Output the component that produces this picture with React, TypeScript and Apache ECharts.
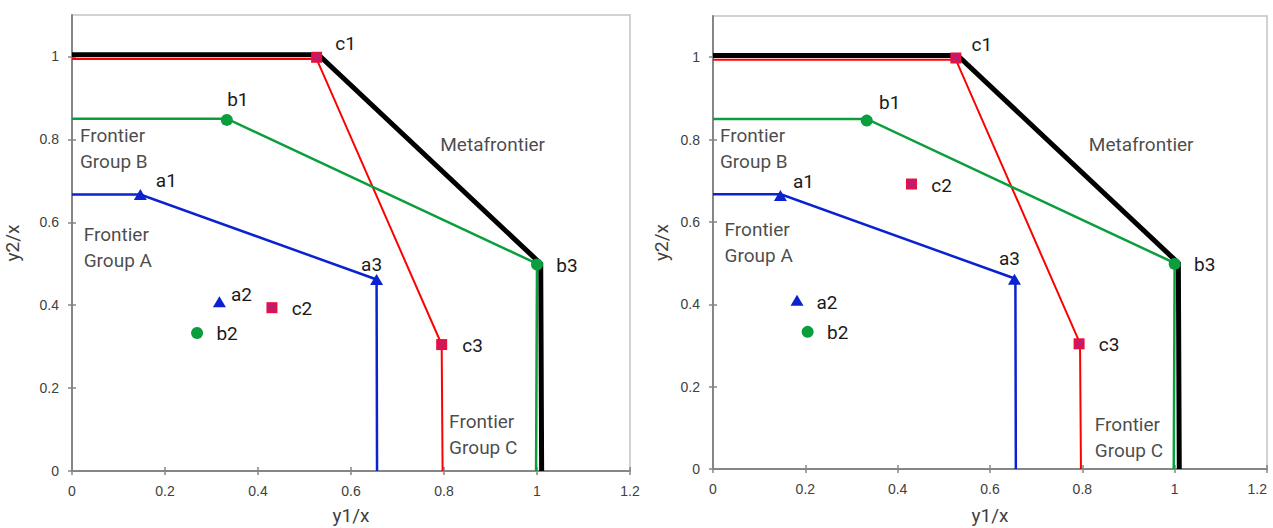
import React, { useEffect, useRef } from "react";
import * as echarts from "echarts";

// ---------- data (values in axis units) ----------
const xTicks = [0, 0.2, 0.4, 0.6, 0.8, 1, 1.2];
const yTicks = [0, 0.2, 0.4, 0.6, 0.8, 1];

// frontier lines (same in both panels)
const metaFrontier = [[0, 1.004], [0.53, 1.004], [1.008, 0.5], [1.01, 0]];
const frontierC = [[0, 0.994], [0.526, 0.994], [0.795, 0.305], [0.797, 0]];
const frontierB = [[0, 0.85], [0.333, 0.85], [1.0, 0.5], [0.998, 0]];
const frontierA = [[0, 0.667], [0.147, 0.667], [0.655, 0.462], [0.656, 0]];

const namesA = ["a1", "a2", "a3"];
const namesB = ["b1", "b2", "b3"];
const namesC = ["c1", "c2", "c3"];

// observed points, left panel
const pointsA_left = [[0.147, 0.667], [0.317, 0.408], [0.655, 0.462]];
const pointsB_left = [[0.333, 0.847], [0.269, 0.333], [1.0, 0.498]];
const pointsC_left = [[0.526, 0.998], [0.43, 0.394], [0.795, 0.305]];

// observed points, right panel
const pointsA_right = [[0.146, 0.664], [0.182, 0.41], [0.653, 0.461]];
const pointsB_right = [[0.333, 0.846], [0.205, 0.333], [1.0, 0.498]];
const pointsC_right = [[0.526, 0.998], [0.43, 0.692], [0.793, 0.304]];

// annotation texts and anchor (left edge, vertical centre) in axis units
const noteTexts = ["Frontier\nGroup B", "Frontier\nGroup A", "Metafrontier", "Frontier\nGroup C"];
const notes_left = [[0.017, 0.778], [0.025, 0.538], [0.792, 0.787], [0.811, 0.087]];
const notes_right = [[0.015, 0.779], [0.025, 0.551], [0.814, 0.788], [0.827, 0.076]];

// ---------- styles ----------
const FONT = "Roboto";
const TXT = "#1a1a1a";
const BLUE = "#0a22d0";
const GREEN = "#0a9e3c";
const RED = "#ff0000";
const SQUARE = "#e8103e";

// label offsets (pixels from marker centre)
const offsLeft: Record<string, number[]> = {
  a1: [26, -14], a2: [22, -7], a3: [-5, -15],
  b1: [11, -20], b2: [30, 1], b3: [30, 1],
  c1: [29, -14], c2: [30, 1], c3: [31, 1],
};
const offsRight: Record<string, number[]> = {
  a1: [23, -14], a2: [30, 2], a3: [-5, -21],
  b1: [23, -18], b2: [30, 1], b3: [30, 1],
  c1: [26, -14], c2: [30, 1], c3: [30, 1],
};

const grids = [
  { left: 72, top: 15, width: 558, height: 456, yNameGap: 50, xNameGap: 35, alignMax: "center" },
  { left: 713, top: 16, width: 554, height: 453, yNameGap: 42, xNameGap: 37, alignMax: "right" },
];

function buildAxes() {
  const xAxis: any[] = [];
  const yAxis: any[] = [];
  grids.forEach((g, i) => {
    const xBase = {
      type: "value", gridIndex: i, min: 0, max: 1.2, interval: 0.2, position: "bottom",
      splitLine: { show: false },
    };
    const yBase = {
      type: "value", gridIndex: i, min: 0, max: 1.1, interval: 0.2, position: "left",
      splitLine: { show: false },
    };
    xAxis.push({
      ...xBase,
      name: "y1/x", nameLocation: "middle", nameGap: g.xNameGap,
      nameTextStyle: { fontFamily: FONT, fontSize: 19, color: "#404040" },
      axisLine: { show: true, lineStyle: { color: "#868686", width: 2 } },
      axisTick: { show: true, inside: false, length: 4, lineStyle: { color: "#868686", width: 1.5 }, customValues: xTicks },
      axisLabel: {
        show: true, margin: 13, fontFamily: "Liberation Sans", fontSize: 14, color: "#404040",
        customValues: xTicks, alignMaxLabel: g.alignMax,
      },
    });
    xAxis.push({
      ...xBase,
      axisLine: { show: false },
      axisTick: { show: true, inside: true, length: 4, lineStyle: { color: "#868686", width: 1.5 }, customValues: xTicks },
      axisLabel: { show: false },
    });
    yAxis.push({
      ...yBase,
      name: "y2/x", nameLocation: "middle", nameGap: g.yNameGap, nameRotate: 90,
      nameTextStyle: { fontFamily: FONT, fontSize: 19, color: "#404040" },
      axisLine: { show: true, lineStyle: { color: "#868686", width: 2 } },
      axisTick: { show: true, inside: false, length: 4, lineStyle: { color: "#868686", width: 1.5 }, customValues: yTicks },
      axisLabel: { show: true, margin: 13, fontFamily: "Liberation Sans", fontSize: 14, color: "#404040", customValues: yTicks },
    });
    yAxis.push({
      ...yBase,
      axisLine: { show: false },
      axisTick: { show: true, inside: true, length: 4, lineStyle: { color: "#868686", width: 1.5 }, customValues: yTicks },
      axisLabel: { show: false },
    });
  });
  return { xAxis, yAxis };
}

function lineSeries(panel: number, data: number[][], color: string, width: number, z: number) {
  return {
    type: "line", xAxisIndex: panel * 2, yAxisIndex: panel * 2,
    data, symbol: "none", showSymbol: false, z,
    lineStyle: { color, width, cap: "butt", join: "miter" },
  };
}

function pointSeries(panel: number, pts: number[][], names: string[], symbol: string, size: any, color: string, offs: Record<string, number[]>) {
  return {
    type: "scatter", xAxisIndex: panel * 2, yAxisIndex: panel * 2, z: 10,
    symbol, symbolSize: size,
    itemStyle: { color, opacity: 1 },
    data: pts.map((p, i) => ({
      value: p, name: names[i],
      label: { offset: offs[names[i]] },
    })),
    label: {
      show: true, position: "inside", formatter: "{b}",
      fontFamily: FONT, fontSize: 19, color: TXT,
      align: "center", verticalAlign: "middle",
    },
  };
}

// the small cross drawn inside each square marker
function crossSeries(panel: number, pts: number[][]) {
  return {
    type: "scatter", xAxisIndex: panel * 2, yAxisIndex: panel * 2, z: 11,
    symbol: "path://M0,0L10,10M10,0L0,10", symbolSize: 7, silent: true,
    itemStyle: { color: "none", borderColor: "#8a2bb8", borderWidth: 1.2 },
    data: pts,
  };
}

function noteSeries(panel: number, anchors: number[][]) {
  return {
    type: "scatter", xAxisIndex: panel * 2, yAxisIndex: panel * 2, z: 5,
    symbolSize: 0, silent: true,
    data: anchors.map((p, i) => ({ value: p, name: noteTexts[i] })),
    label: {
      show: true, position: "inside", formatter: "{b}",
      fontFamily: FONT, fontSize: 19, color: TXT, lineHeight: 26,
      align: "left", verticalAlign: "middle",
    },
  };
}

function panelSeries(panel: number, pa: number[][], pb: number[][], pc: number[][], notes: number[][], offs: Record<string, number[]>) {
  return [
    lineSeries(panel, frontierC, RED, 2, 3),
    lineSeries(panel, metaFrontier, "#000000", 5, 2),
    lineSeries(panel, frontierB, GREEN, 2.5, 4),
    lineSeries(panel, frontierA, BLUE, 2.5, 4),
    noteSeries(panel, notes),
    pointSeries(panel, pa, namesA, "triangle", [13, 11], BLUE, offs),
    pointSeries(panel, pb, namesB, "circle", 12, GREEN, offs),
    pointSeries(panel, pc, namesC, "rect", 11, SQUARE, offs),
    crossSeries(panel, pc),
  ];
}

export default function App() {
  const ref = useRef<HTMLDivElement>(null);
  useEffect(() => {
    if (!ref.current) return;
    const chart = echarts.init(ref.current, undefined, { renderer: "svg" });
    const { xAxis, yAxis } = buildAxes();
    chart.setOption({
      animation: false,
      backgroundColor: "#ffffff",
      grid: grids.map((g) => ({
        left: g.left, top: g.top, width: g.width, height: g.height,
        containLabel: false, outerBoundsMode: "none",
        show: true, borderColor: "#c4c4c4", borderWidth: 1.5, backgroundColor: "transparent",
      })),
      xAxis,
      yAxis,
      series: [
        ...panelSeries(0, pointsA_left, pointsB_left, pointsC_left, notes_left, offsLeft),
        ...panelSeries(1, pointsA_right, pointsB_right, pointsC_right, notes_right, offsRight),
      ],
    });
    return () => chart.dispose();
  }, []);
  return (
    <div
      ref={ref}
      style={{ position: "fixed", left: 0, top: 0, width: 1273, height: 528, background: "#fff" }}
    />
  );
}
